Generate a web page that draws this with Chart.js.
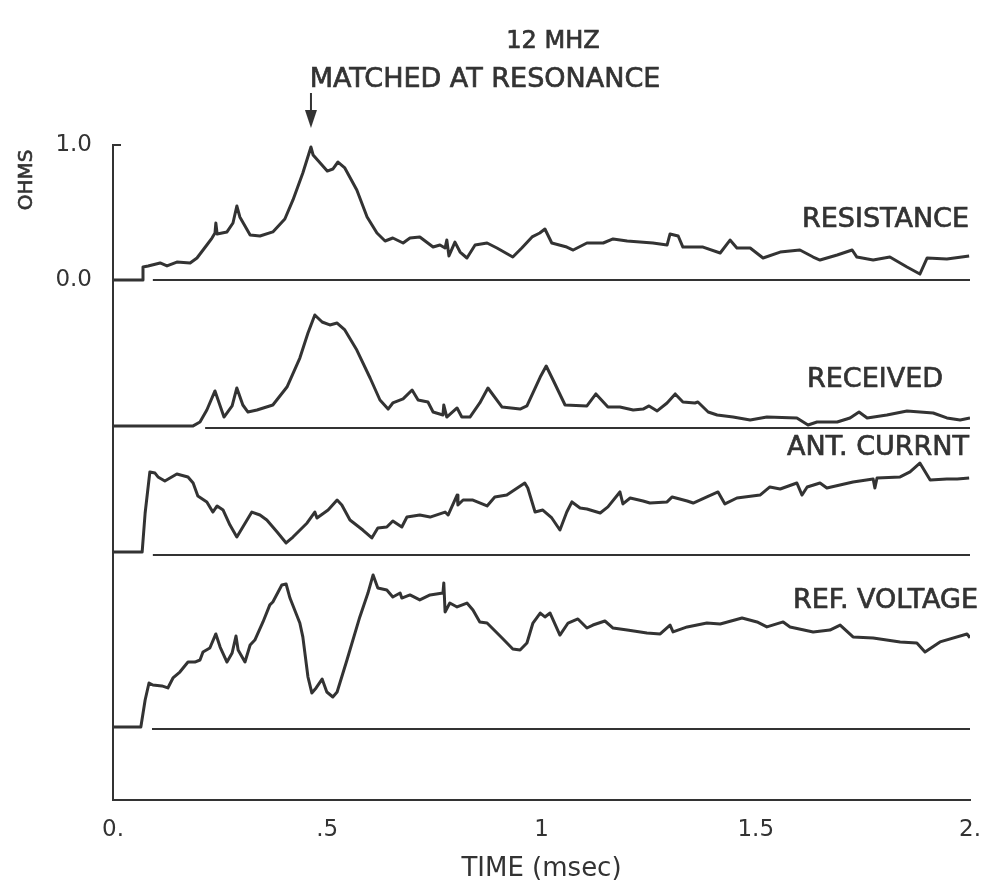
<!DOCTYPE html>
<html>
<head>
<meta charset="utf-8">
<script src="https://cdn.jsdelivr.net/npm/chart.js@4/dist/chart.umd.min.js"></script>
<style>
  html, body { margin: 0; padding: 0; background: #fff; }
  #wrap { width: 984px; height: 888px; }
</style>
</head>
<body>
<div id="wrap"><canvas id="traceChart" width="984" height="888"></canvas></div>
<script>
// time in msec, values on the shared OHMS scale (each trace sits on its own baseline)
const resTime = [0, 0.068, 0.070, 0.082, 0.110, 0.126, 0.149, 0.180, 0.196, 0.219, 0.231, 0.238, 0.240, 0.243, 0.266, 0.280, 0.289, 0.296, 0.320, 0.343, 0.373, 0.401, 0.420, 0.443, 0.462, 0.467, 0.500, 0.513, 0.525, 0.541, 0.569, 0.593, 0.616, 0.635, 0.653, 0.677, 0.693, 0.716, 0.747, 0.763, 0.775, 0.779, 0.784, 0.798, 0.810, 0.826, 0.845, 0.873, 0.896, 0.933, 0.954, 0.978, 0.996, 1.008, 1.024, 1.059, 1.074, 1.106, 1.144, 1.167, 1.200, 1.260, 1.293, 1.300, 1.319, 1.330, 1.377, 1.417, 1.440, 1.456, 1.487, 1.517, 1.557, 1.603, 1.634, 1.650, 1.690, 1.725, 1.736, 1.774, 1.813, 1.853, 1.883, 1.900, 1.946, 1.998];
const resValue = [0, 0, 0.096, 0.104, 0.126, 0.104, 0.133, 0.126, 0.163, 0.259, 0.311, 0.348, 0.422, 0.341, 0.356, 0.422, 0.548, 0.467, 0.333, 0.326, 0.356, 0.452, 0.593, 0.793, 0.985, 0.926, 0.807, 0.822, 0.874, 0.830, 0.667, 0.467, 0.348, 0.289, 0.311, 0.274, 0.311, 0.319, 0.244, 0.259, 0.237, 0.296, 0.178, 0.281, 0.207, 0.163, 0.259, 0.274, 0.237, 0.170, 0.237, 0.319, 0.348, 0.378, 0.274, 0.244, 0.222, 0.274, 0.274, 0.304, 0.289, 0.274, 0.259, 0.341, 0.326, 0.244, 0.244, 0.200, 0.296, 0.237, 0.237, 0.163, 0.207, 0.222, 0.170, 0.148, 0.185, 0.222, 0.170, 0.148, 0.170, 0.096, 0.044, 0.163, 0.156, 0.178];

const recTime = [0, 0.187, 0.203, 0.219, 0.238, 0.259, 0.278, 0.289, 0.303, 0.315, 0.336, 0.373, 0.406, 0.436, 0.455, 0.471, 0.488, 0.506, 0.523, 0.541, 0.569, 0.600, 0.623, 0.642, 0.653, 0.677, 0.698, 0.712, 0.735, 0.747, 0.770, 0.772, 0.779, 0.803, 0.814, 0.833, 0.856, 0.875, 0.908, 0.950, 0.966, 0.997, 1.011, 1.027, 1.055, 1.106, 1.127, 1.155, 1.183, 1.214, 1.237, 1.251, 1.270, 1.293, 1.312, 1.330, 1.358, 1.365, 1.389, 1.410, 1.447, 1.487, 1.526, 1.596, 1.622, 1.643, 1.690, 1.720, 1.741, 1.760, 1.806, 1.853, 1.914, 1.946, 1.977, 2.000];
const recValue = [-1.081, -1.081, -1.052, -0.963, -0.822, -1.015, -0.933, -0.800, -0.926, -0.978, -0.963, -0.926, -0.793, -0.578, -0.393, -0.259, -0.311, -0.333, -0.319, -0.370, -0.519, -0.726, -0.889, -0.956, -0.911, -0.881, -0.815, -0.889, -0.904, -0.978, -1.000, -0.926, -1.015, -0.948, -1.015, -1.015, -0.911, -0.800, -0.941, -0.956, -0.933, -0.719, -0.637, -0.741, -0.926, -0.933, -0.844, -0.941, -0.941, -0.963, -0.956, -0.933, -0.970, -0.911, -0.844, -0.904, -0.911, -0.904, -0.978, -1.000, -1.015, -1.037, -1.015, -1.022, -1.074, -1.052, -1.052, -1.022, -0.978, -1.022, -1.000, -0.970, -0.985, -1.022, -1.037, -1.022];

const antTime = [0, 0.068, 0.075, 0.086, 0.098, 0.105, 0.121, 0.133, 0.149, 0.175, 0.187, 0.198, 0.219, 0.233, 0.243, 0.257, 0.273, 0.289, 0.303, 0.324, 0.343, 0.359, 0.383, 0.404, 0.420, 0.453, 0.471, 0.476, 0.502, 0.523, 0.534, 0.553, 0.583, 0.604, 0.618, 0.639, 0.653, 0.674, 0.686, 0.716, 0.740, 0.775, 0.782, 0.803, 0.805, 0.817, 0.840, 0.873, 0.891, 0.919, 0.961, 0.968, 0.985, 1.003, 1.024, 1.043, 1.059, 1.071, 1.090, 1.106, 1.137, 1.155, 1.183, 1.190, 1.207, 1.237, 1.253, 1.293, 1.305, 1.340, 1.354, 1.386, 1.412, 1.428, 1.456, 1.510, 1.533, 1.557, 1.596, 1.608, 1.620, 1.650, 1.666, 1.727, 1.774, 1.778, 1.783, 1.837, 1.860, 1.883, 1.907, 1.946, 1.970, 1.998];
const antValue = [-2.015, -2.015, -1.726, -1.422, -1.430, -1.459, -1.489, -1.467, -1.437, -1.459, -1.504, -1.600, -1.644, -1.719, -1.674, -1.704, -1.815, -1.904, -1.830, -1.719, -1.741, -1.778, -1.867, -1.948, -1.904, -1.800, -1.719, -1.763, -1.704, -1.630, -1.667, -1.778, -1.852, -1.911, -1.837, -1.830, -1.785, -1.830, -1.756, -1.741, -1.756, -1.719, -1.741, -1.593, -1.667, -1.630, -1.630, -1.674, -1.607, -1.593, -1.504, -1.541, -1.719, -1.704, -1.763, -1.852, -1.719, -1.644, -1.689, -1.696, -1.726, -1.681, -1.570, -1.659, -1.615, -1.637, -1.652, -1.644, -1.607, -1.637, -1.652, -1.607, -1.570, -1.659, -1.615, -1.593, -1.533, -1.548, -1.504, -1.593, -1.533, -1.504, -1.541, -1.496, -1.474, -1.541, -1.467, -1.459, -1.422, -1.356, -1.481, -1.474, -1.474, -1.467];

const refTime = [0, 0.065, 0.075, 0.084, 0.093, 0.114, 0.128, 0.140, 0.156, 0.175, 0.191, 0.203, 0.210, 0.226, 0.240, 0.250, 0.266, 0.278, 0.287, 0.292, 0.308, 0.320, 0.331, 0.350, 0.366, 0.373, 0.394, 0.404, 0.413, 0.436, 0.443, 0.455, 0.464, 0.474, 0.488, 0.499, 0.513, 0.523, 0.546, 0.576, 0.595, 0.607, 0.618, 0.639, 0.653, 0.670, 0.674, 0.693, 0.716, 0.740, 0.770, 0.772, 0.775, 0.786, 0.803, 0.826, 0.840, 0.856, 0.873, 0.908, 0.933, 0.950, 0.966, 0.980, 0.997, 1.008, 1.020, 1.043, 1.062, 1.085, 1.106, 1.120, 1.148, 1.167, 1.200, 1.246, 1.277, 1.300, 1.307, 1.340, 1.386, 1.417, 1.468, 1.503, 1.526, 1.564, 1.580, 1.634, 1.673, 1.697, 1.727, 1.774, 1.837, 1.876, 1.895, 1.930, 1.993, 2.000];
const refValue = [-3.311, -3.311, -3.111, -2.985, -3.000, -3.007, -3.022, -2.948, -2.904, -2.830, -2.830, -2.815, -2.756, -2.726, -2.622, -2.719, -2.830, -2.763, -2.637, -2.741, -2.830, -2.704, -2.667, -2.533, -2.407, -2.385, -2.259, -2.252, -2.356, -2.541, -2.644, -2.941, -3.059, -3.022, -2.956, -3.052, -3.089, -3.052, -2.815, -2.496, -2.319, -2.185, -2.281, -2.296, -2.348, -2.319, -2.356, -2.333, -2.370, -2.333, -2.319, -2.244, -2.459, -2.393, -2.422, -2.393, -2.444, -2.533, -2.541, -2.652, -2.733, -2.741, -2.689, -2.541, -2.467, -2.496, -2.467, -2.630, -2.541, -2.511, -2.578, -2.556, -2.526, -2.578, -2.593, -2.615, -2.622, -2.556, -2.607, -2.570, -2.541, -2.548, -2.504, -2.533, -2.570, -2.533, -2.570, -2.607, -2.593, -2.556, -2.644, -2.652, -2.681, -2.689, -2.756, -2.681, -2.622, -2.650];

// zero lines drawn under each trace
const baseStart = [0.093, 0.215, 0.093, 0.091];
const baseLevel = [0, -1.096, -2.037, -3.326];

const traceNames = ["RESISTANCE", "RECEIVED", "ANT. CURRNT", "REF. VOLTAGE"];
const xTickValues = [0, 0.5, 1, 1.5, 2];
const xTickLabels = ["0.", ".5", "1", "1.5", "2."];
const yTickValues = [0, 1];
const yTickLabels = ["0.0", "1.0"];
const matchTime = 0.462;

const ink = "#333";
const font = "DejaVu Sans";

function pts(ts, vs) {
  return ts.map((t, i) => ({ x: t, y: vs[i] }));
}

const traces = [[resTime, resValue], [recTime, recValue], [antTime, antValue], [refTime, refValue]];
const datasets = [];
traces.forEach((tr, i) => {
  datasets.push({
    label: traceNames[i],
    data: pts(tr[0], tr[1]),
    borderColor: ink,
    borderWidth: 3,
    pointRadius: 0,
    tension: 0,
    borderJoinStyle: "round"
  });
});
baseLevel.forEach((lv, i) => {
  datasets.push({
    label: "base" + i,
    data: [{ x: baseStart[i], y: lv }, { x: 2, y: lv }],
    borderColor: ink,
    borderWidth: 2,
    pointRadius: 0
  });
});

function letter(ctx, text, x, y) {
  ctx.fillText(text, x, y);
  ctx.strokeText(text, x, y);
}

// text and the arrow that are not part of the axes
const notes = {
  id: "notes",
  afterDraw(chart) {
    const ctx = chart.ctx;
    const x = chart.scales.x;
    const y = chart.scales.y;
    ctx.save();
    ctx.fillStyle = ink;
    ctx.strokeStyle = ink;
    ctx.lineWidth = 0.7;
    ctx.textBaseline = "alphabetic";

    ctx.textAlign = "center";
    ctx.font = "24px " + font;
    letter(ctx, "12 MHZ", 553, 48);
    ctx.font = "27px " + font;
    letter(ctx, "MATCHED AT RESONANCE", 485, 87);

    ctx.textAlign = "right";
    ctx.font = "27px " + font;
    letter(ctx, traceNames[0], 969, 227);
    letter(ctx, traceNames[1], 943, 387);
    letter(ctx, traceNames[2], 969, 455);
    letter(ctx, traceNames[3], 978, 608);

    const ax = x.getPixelForValue(matchTime);
    ctx.lineWidth = 2;
    ctx.beginPath();
    ctx.moveTo(ax, 93);
    ctx.lineTo(ax, 116);
    ctx.stroke();
    ctx.beginPath();
    ctx.moveTo(ax - 6, 110);
    ctx.lineTo(ax + 6, 110);
    ctx.lineTo(ax, 128);
    ctx.closePath();
    ctx.fill();

    // small tick at 1.0 pointing inward
    const t1 = y.getPixelForValue(1);
    ctx.beginPath();
    ctx.moveTo(x.left, t1);
    ctx.lineTo(x.left + 8, t1);
    ctx.stroke();

    ctx.translate(27, 180);
    ctx.rotate(-Math.PI / 2);
    ctx.font = "20px " + font;
    ctx.textAlign = "center";
    ctx.textBaseline = "middle";
    ctx.lineWidth = 0.6;
    letter(ctx, "OHMS", 0, 0);
    ctx.restore();
  }
};

new Chart(document.getElementById("traceChart"), {
  type: "line",
  data: { datasets },
  options: {
    responsive: false,
    devicePixelRatio: 1,
    animation: false,
    events: [],
    layout: { padding: { top: 145, right: 14, left: 0, bottom: 0 } },
    plugins: { legend: { display: false }, tooltip: { enabled: false } },
    scales: {
      x: {
        type: "linear",
        min: 0,
        max: 2,
        afterBuildTicks: s => { s.ticks = xTickValues.map(v => ({ value: v })); },
        afterFit: s => { s.height = 88; s.paddingLeft = 0; s.paddingRight = 0; },
        grid: { display: false, drawTicks: false },
        border: { display: true, color: ink, width: 2 },
        ticks: {
          autoSkip: false,
          maxRotation: 0,
          padding: 16,
          color: ink,
          font: { family: font, size: 23 },
          callback: (v, i) => xTickLabels[i]
        },
        title: {
          display: true,
          text: "TIME (msec)",
          color: ink,
          font: { family: font, size: 26 },
          padding: { top: 0, bottom: 3 }
        }
      },
      y: {
        min: -3.852,
        max: 1,
        afterBuildTicks: s => { s.ticks = yTickValues.map(v => ({ value: v })); },
        afterFit: s => { s.width = 113; s.paddingTop = 0; s.paddingBottom = 0; },
        grid: { display: false, drawTicks: false },
        border: { display: true, color: ink, width: 2 },
        ticks: {
          padding: 21,
          color: ink,
          font: { family: font, size: 23 },
          callback: (v, i) => yTickLabels[i]
        }
      }
    }
  },
  plugins: [notes]
});
</script>
</body>
</html>
